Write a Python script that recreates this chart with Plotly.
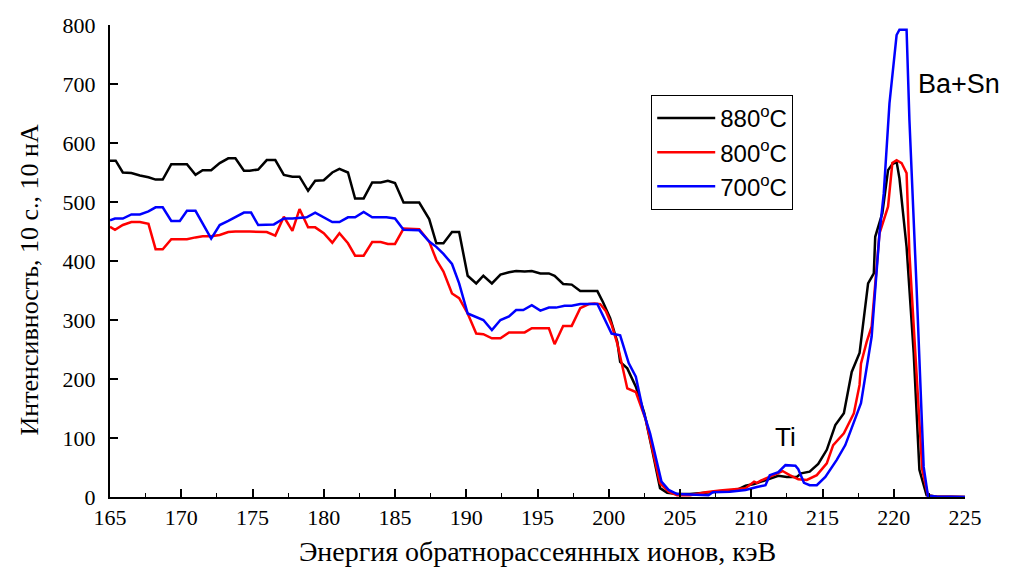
import plotly.graph_objects as go

# ---- data ----
e880 = [165.0, 165.4, 165.9, 166.5, 167.1, 167.7, 168.2, 168.7, 169.3, 170.4, 171.0, 171.5, 172.1, 172.7,
        173.3, 173.8, 174.4, 174.8, 175.4, 176.0, 176.6, 177.2, 177.8, 178.3, 178.9, 179.4, 180.0, 180.6,
        181.1, 181.7, 182.2, 182.8, 183.4, 184.0, 184.5, 185.0, 185.6, 186.7, 187.4, 187.9, 188.4, 189.0,
        189.5, 190.1, 190.7, 191.2, 191.8, 192.4, 193.0, 193.5, 194.1, 194.6, 195.2, 195.8, 196.2, 196.8,
        197.4, 198.0, 199.2, 199.6, 200.1, 200.6, 200.8, 201.3, 201.9, 202.5, 203.0, 203.4, 203.6, 204.1,
        204.8, 205.7, 206.8, 207.8, 209.0, 209.6, 210.2, 210.7, 211.3, 211.9, 212.5, 213.2, 213.5, 214.1,
        214.7, 215.3, 215.9, 216.5, 217.05, 217.6, 218.2, 218.6, 218.7, 219.2, 219.6, 219.9, 220.2, 220.4,
        220.9, 221.4, 221.8, 222.3, 223.0, 225.0]
i880 = [570, 570, 550, 549, 545, 542, 538, 538, 564, 564, 546, 554, 554, 566,
        574, 574, 553, 553, 555, 571, 571, 546, 543, 543, 519, 536, 537, 550,
        556, 550, 506, 506, 533, 533, 536, 532, 499, 499, 471, 430, 430, 449,
        449, 375, 362, 375, 362, 377, 381, 383, 382, 383, 379, 379, 375, 361,
        360, 349, 349, 330, 303, 263, 229, 218, 187, 142, 85, 34, 15, 7,
        5, 5, 7, 9, 12, 19, 22, 26, 31, 36, 34, 34, 40, 43,
        56, 80, 122, 142, 212, 244, 362, 379, 441, 481, 554, 564, 568, 540,
        424, 244, 46, 3, 1, 0]

e800 = [165.0, 165.35, 165.9, 166.5, 167.1, 167.7, 168.2, 168.7, 169.3, 170.4, 171.0, 171.5, 172.1, 172.7,
        173.3, 173.8, 174.8, 175.4, 176.0, 176.6, 177.2, 177.8, 178.3, 178.9, 179.4, 180.0, 180.6, 181.1,
        181.7, 182.2, 182.8, 183.4, 184.0, 184.5, 185.0, 185.6, 186.7, 187.4, 187.9, 188.4, 189.0, 189.5,
        190.1, 190.7, 191.2, 191.8, 192.4, 193.0, 194.1, 194.6, 195.8, 196.2, 196.8, 197.4, 198.0, 198.6,
        199.0, 199.4, 199.8, 200.2, 200.6, 201.3, 201.9, 202.6, 203.2, 203.6, 204.2, 204.8, 205.7, 206.8,
        207.8, 209.0, 209.6, 210.2, 210.4, 210.7, 211.3, 212.2, 212.7, 213.3, 213.9, 214.6, 215.3, 215.75,
        216.5, 217.2, 217.6, 217.7, 218.1, 218.45, 219.0, 219.6, 219.9, 220.2, 220.55, 220.9, 221.1, 221.6,
        222.0, 222.4, 223.0, 225.0]
i800 = [458, 453, 461, 466, 466, 463, 420, 420, 437, 437, 440, 442, 442, 444,
        449, 450, 450, 449, 449, 443, 475, 451, 488, 457, 457, 447, 431, 447,
        430, 409, 409, 432, 432, 429, 429, 455, 454, 433, 402, 382, 345, 337,
        311, 277, 276, 269, 269, 279, 279, 286, 286, 259, 290, 290, 320, 327,
        328, 327, 315, 292, 260, 184, 178, 131, 63, 23, 9, 3, 3, 8,
        11, 13, 15, 26, 24, 28, 34, 44, 37, 30, 29, 37, 57, 88,
        108, 142, 190, 226, 263, 289, 447, 492, 566, 571, 566, 549, 413, 215,
        46, 2, 1, 0]

e700 = [165.0, 165.35, 165.9, 166.5, 167.1, 167.7, 168.2, 168.7, 169.3, 169.9, 170.4, 171.0, 172.1, 172.7,
        173.3, 174.4, 174.9, 175.4, 176.5, 177.2, 177.8, 178.8, 179.4, 180.0, 180.6, 181.1, 181.7, 182.2,
        182.8, 183.4, 184.4, 185.0, 185.6, 186.7, 187.4, 187.9, 188.4, 189.0, 189.5, 190.1, 190.7, 191.2,
        191.8, 192.4, 193.0, 193.5, 194.0, 194.6, 195.2, 195.8, 196.3, 196.9, 197.4, 198.0, 199.2, 199.6,
        200.2, 200.8, 201.4, 201.9, 202.4, 202.9, 203.4, 203.7, 204.2, 204.8, 207.0, 207.3, 208.5, 209.6,
        210.4, 211.0, 211.3, 211.9, 212.4, 213.1, 213.3, 213.7, 214.1, 214.6, 215.2, 216.0, 216.6, 217.2,
        217.7, 218.45, 219.0, 219.3, 219.7, 220.2, 220.4, 220.9, 221.1, 221.6, 222.1, 222.4, 223.0, 225.0]
i700 = [469, 472, 472, 479, 479, 484, 491, 491, 468, 468, 485, 485, 438, 461,
        468, 482, 482, 461, 462, 472, 472, 474, 482, 474, 466, 466, 474, 474,
        483, 474, 474, 472, 453, 452, 433, 424, 412, 395, 362, 311, 305, 300,
        283, 300, 306, 317, 317, 325, 316, 321, 321, 324, 324, 327, 327, 306,
        277, 274, 227, 204, 147, 108, 54, 26, 12, 5, 3, 8, 9, 12,
        17, 20, 37, 42, 54, 53, 47, 24, 20, 20, 34, 63, 88, 125,
        159, 272, 447, 515, 667, 783, 792, 792, 639, 356, 51, 2, 1, 0]

series = [
    ("880<sup>o</sup>C", e880, i880, "#000000"),
    ("800<sup>o</sup>C", e800, i800, "#ff0000"),
    ("700<sup>o</sup>C", e700, i700, "#0000ff"),
]

labels = [("Ti", 212.4, 102, 26), ("Ba+Sn", 224.55, 700, 27)]

fig = go.Figure()
for name, x, y, col in series:
    fig.add_trace(go.Scatter(x=x, y=y, mode="lines", name=name,
                             line=dict(color=col, width=2.5)))

for txt, xv, yv, fs in labels:
    fig.add_annotation(x=xv, y=yv, text=txt, showarrow=False,
                       font=dict(family="Liberation Sans", size=fs, color="black"))

serif = "Times New Roman"
# y axis title placed as a rotated annotation (matches the reference position)
fig.add_annotation(xref="paper", yref="paper", x=-0.094, y=0.46, xanchor="center", yanchor="middle",
                   textangle=-90, text="Интенсивность, 10 с., 10 нА", showarrow=False,
                   font=dict(family=serif, size=26, color="black"))

fig.update_layout(
    width=1012, height=567,
    margin=dict(l=110, r=47, t=25, b=70),
    paper_bgcolor="white", plot_bgcolor="white",
    font=dict(family=serif, color="black"),
    legend=dict(x=0.633, y=0.852, xanchor="left", yanchor="top",
                bordercolor="black", borderwidth=1, bgcolor="white",
                font=dict(family="Liberation Sans", size=24, color="black"),
                itemwidth=58, tracegroupgap=0),
    xaxis=dict(range=[165, 225], dtick=5, tick0=165, ticks="inside", ticklen=8, tickwidth=1.5,
               tickcolor="black", showline=True, linecolor="black", linewidth=2,
               showgrid=False, zeroline=False, automargin=False,
               minor=dict(dtick=2.5, ticks="inside", ticklen=4, tickcolor="black", tickwidth=1.2, showgrid=False),
               tickfont=dict(family=serif, size=22, color="black", weight="normal"),
               title=dict(text="Энергия обратнорассеянных ионов, кэВ", standoff=14,
                          font=dict(family=serif, size=28, color="black"))),
    yaxis=dict(range=[0, 800], dtick=100, ticks="inside", ticklen=8, tickwidth=1.5,
               tickcolor="black", showline=True, linecolor="black", linewidth=2,
               showgrid=False, zeroline=False, automargin=False,
               ticklabelstandoff=8,
               tickfont=dict(family=serif, size=22, color="black", weight="normal")),
)

fig.write_html("out.html")
